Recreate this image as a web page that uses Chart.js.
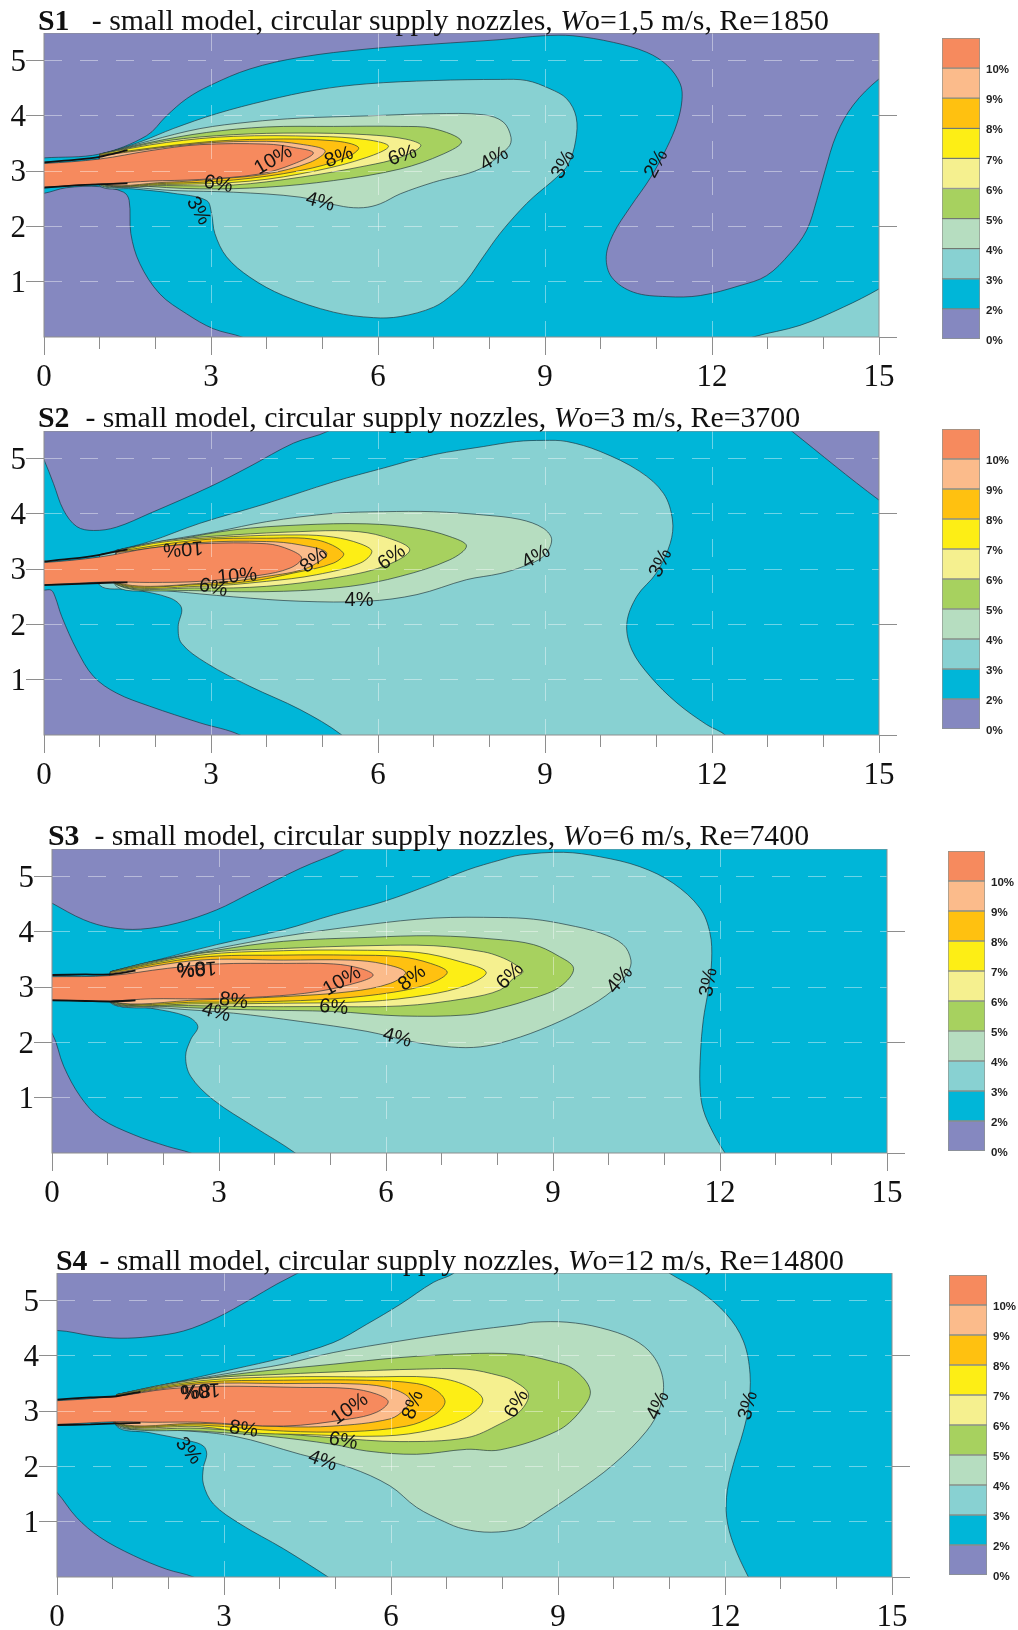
<!DOCTYPE html>
<html>
<head>
<meta charset="utf-8">
<script src="https://cdn.jsdelivr.net/npm/chart.js@4"></script>
<style>
  html, body { margin: 0; padding: 0; background: #fff; }
  body { position: relative; width: 1018px; height: 1630px; overflow: hidden; filter: blur(0.45px); }
  canvas { position: absolute; }
  .title { position: absolute; font: 29.8px/34px "Liberation Serif", serif; color: #111; white-space: pre; z-index: 5; }
</style>
</head>
<body>
<script>
// tick values
const xMajorTicks = [0, 3, 6, 9, 12, 15];
const xMinorTicks = [1, 2, 4, 5, 7, 8, 10, 11, 13, 14];
const yLeftTicks = [1, 2, 3, 4, 5];
const yRightTicks = [0, 2, 4];
const legendLabels = ['0%', '2%', '3%', '4%', '5%', '6%', '7%', '8%', '9%', '10%', ''];
const legendBands = [1, 1, 1, 1, 1, 1, 1, 1, 1, 1];

// titles
const titleNames = ['S1', 'S2', 'S3', 'S4'];
const titleGaps = ['   - ', '  - ', '  - ', '  - '];
const titleSpeeds = ['1,5', '3', '6', '12'];
const titleRe = ['1850', '3700', '7400', '14800'];

// S1 contours, [distance x, distance y]
const s1Low1 = [[-0.5,3.2],[0,3.24],[1,3.31],[1.84,3.64],[2.2,4],[2.56,4.31],[2.98,4.55],[3.7,4.85],[4.6,5.06],[5.8,5.21],[7,5.3],[8.19,5.38],[8.97,5.45],[9.5,5.45],[10.23,5.33],[10.83,5.15],[11.2,4.91],[11.43,4.58],[11.46,4.28],[11.37,3.86],[11.19,3.43],[10.9,2.89],[10.53,2.35],[10.23,1.87],[10.1,1.45],[10.2,1.08],[10.59,0.81],[11.19,0.73],[11.79,0.75],[12.5,0.93],[12.98,1.11],[13.4,1.51],[13.7,1.93],[13.88,2.47],[14.03,3.01],[14.24,3.67],[14.54,4.2],[15,4.67],[15.5,5],[15.5,6],[-0.5,6]];
const s1Low2 = [[-0.5,2.55],[0,2.6],[0.4,2.7],[1,2.72],[1.43,2.62],[1.53,2.47],[1.56,1.87],[1.72,1.33],[2.08,0.78],[2.56,0.42],[3.04,0.15],[3.58,-0.01],[3.9,-0.2],[-0.5,-0.5]];
const s1L3a = [[1,3.28],[1.78,3.55],[2.32,3.77],[3.1,4.04],[4,4.28],[4.9,4.47],[5.8,4.58],[7,4.64],[8.2,4.66],[8.67,4.64],[9.09,4.49],[9.39,4.31],[9.56,3.98],[9.55,3.55],[9.42,3.13],[9.21,2.89],[8.79,2.53],[8.55,2.29],[8.19,1.87],[7.89,1.45],[7.59,1.02],[7.35,0.78],[7,0.54],[6.4,0.37],[5.92,0.35],[5.2,0.45],[4.3,0.75],[3.7,1.08],[3.28,1.45],[3.07,1.87],[3.01,2.23],[2.92,2.47],[2.32,2.6],[1.6,2.68],[1,2.74]];
const s1L3b = [[12.2,-0.2],[12.74,0],[13.58,0.21],[14.36,0.54],[15,0.87],[15.5,1.2],[15.5,-0.5]];
const s1L4 = [[1,3.3],[1.9,3.55],[2.8,3.77],[3.7,3.89],[4.6,3.96],[5.8,4],[7,4.04],[7.9,4.02],[8.25,3.89],[8.39,3.61],[8.34,3.43],[7.83,3.04],[7,2.8],[6.4,2.59],[6.04,2.41],[5.74,2.34],[5.38,2.36],[4.6,2.53],[3.4,2.62],[2.32,2.65],[1.6,2.71],[1,2.76]];
const s1L5 = [[1,3.31],[1.9,3.52],[2.92,3.7],[4,3.8],[5.2,3.81],[6.4,3.81],[7,3.77],[7.5,3.54],[7.17,3.31],[6.4,3.04],[5.2,2.83],[4,2.71],[2.8,2.68],[1.6,2.74],[1,2.77]];
const s1L6 = [[1,3.31],[2.2,3.55],[3.4,3.66],[4.6,3.69],[5.8,3.66],[6.5,3.58],[6.77,3.46],[6.4,3.25],[5.8,3.1],[4.6,2.89],[3.4,2.75],[2.2,2.74],[1,2.78]];
const s1L7 = [[1,3.31],[2.2,3.52],[3.4,3.63],[4.9,3.63],[5.8,3.57],[6.19,3.45],[5.8,3.25],[4.9,3.01],[3.7,2.82],[2.2,2.76],[1,2.79]];
const s1L8 = [[1,3.3],[2.8,3.52],[4,3.58],[5.2,3.55],[5.65,3.43],[5.44,3.25],[4.6,3.01],[3.4,2.84],[2.2,2.78],[1,2.79]];
const s1L9 = [[1,3.28],[2.8,3.5],[4,3.54],[4.6,3.49],[5.05,3.37],[4.78,3.16],[4,2.95],[3.1,2.86],[2.2,2.8],[1,2.79]];
const s1L10 = [[-0.5,3.14],[0,3.14],[1,3.22],[1.9,3.37],[2.8,3.48],[4,3.49],[4.48,3.43],[4.84,3.33],[4.48,3.13],[3.88,2.95],[2.8,2.85],[1.9,2.82],[1.25,2.78],[1,2.77],[0,2.71],[-0.5,2.71]];
const s1JetTop = [[0,3.16],[0.5,3.2],[1,3.26],[1.5,3.38]];
const s1JetLow = [[0,2.7],[0.5,2.74],[1,2.76],[1.5,2.78]];
const s1Text = [[4.12,3.2,'10%',-30],[5.3,3.25,'8%',-20],[3.13,2.76,'6%',10],[6.44,3.28,'6%',-18],[8.09,3.22,'4%',-30],[4.96,2.44,'4%',15],[2.77,2.28,'3%',60],[9.33,3.12,'3%',-62],[11,3.13,'2%',-62]];

// S2 contours
const s2Low1 = [[-0.2,5.4],[0,4.98],[0.17,4.55],[0.35,4.07],[0.59,3.77],[0.89,3.7],[1.3,3.76],[1.9,4.01],[2.98,4.49],[3.7,4.86],[4.48,5.28],[5.11,5.5],[5.5,5.8],[-0.5,5.8]];
const s2Low2 = [[-0.5,2.6],[0,2.62],[0.13,2.62],[0.2,2.5],[0.32,2.14],[0.59,1.54],[0.89,1.06],[1.3,0.76],[1.9,0.52],[2.8,0.22],[3.52,0],[3.9,-0.3],[-0.5,-0.3]];
const s2Low3 = [[13,5.85],[13.43,5.5],[15,4.25],[15.5,3.95],[15.5,6]];
const s2L3 = [[1,3.26],[1.3,3.34],[1.9,3.5],[2.8,3.83],[4,4.19],[5.2,4.58],[6.1,4.83],[7,5.07],[7.9,5.22],[8.49,5.31],[8.97,5.33],[9.39,5.31],[9.99,5.13],[10.7,4.77],[11.13,4.37],[11.29,3.89],[11.25,3.47],[11,2.93],[10.65,2.51],[10.47,2.02],[10.56,1.54],[10.89,1.06],[11.37,0.58],[11.9,0.19],[12.26,-0.02],[12.4,-0.3],[5.6,-0.3],[5.35,0],[4.6,0.46],[3.7,0.88],[2.92,1.3],[2.47,1.66],[2.41,1.96],[2.47,2.3],[2.26,2.48],[1.6,2.63],[1,2.71]];
const s2L4 = [[1.3,3.34],[1.9,3.47],[3.1,3.68],[4,3.86],[5.2,4.01],[6.1,4.04],[7,4.04],[7.9,3.98],[8.55,3.9],[8.97,3.74],[9.12,3.53],[8.97,3.23],[8.61,3.05],[8.19,2.92],[7.59,2.81],[6.7,2.54],[5.8,2.42],[4.6,2.42],[3.4,2.5],[2.2,2.61],[1.3,2.69]];
const s2L5 = [[1.3,3.34],[2.2,3.5],[3.4,3.71],[4.6,3.8],[5.8,3.82],[6.7,3.74],[7.29,3.59],[7.59,3.42],[7.29,3.17],[6.4,2.87],[5.5,2.69],[4.3,2.6],[2.8,2.61],[1.3,2.72]];
const s2L6 = [[1.3,3.34],[2.2,3.52],[3.4,3.62],[4.6,3.68],[5.5,3.69],[6.1,3.59],[6.57,3.35],[6.1,3.05],[5.2,2.84],[4,2.69],[2.8,2.66],[1.3,2.73]];
const s2L7 = [[1.3,3.33],[2.2,3.5],[3.4,3.59],[4.6,3.62],[5.2,3.58],[5.68,3.46],[5.89,3.32],[5.68,3.11],[4.9,2.9],[4,2.78],[2.8,2.69],[1.3,2.74]];
const s2L8 = [[1.3,3.32],[2.8,3.53],[4,3.56],[4.9,3.53],[5.38,3.29],[5.2,3.11],[4.48,2.93],[3.7,2.78],[2.8,2.72],[1.3,2.75]];
const s2L9 = [[1.3,3.3],[2.8,3.48],[4,3.5],[4.6,3.44],[5.08,3.29],[4.72,3.02],[4,2.87],[3.1,2.76],[1.3,2.76]];
const s2L10 = [[-0.5,3.12],[0,3.12],[1,3.22],[1.9,3.38],[2.8,3.46],[4,3.46],[4.42,3.35],[4.63,3.2],[4.42,3.02],[3.88,2.89],[2.8,2.78],[1.9,2.76],[1.19,2.77],[0,2.72],[-0.5,2.72]];
const s2JetTop = [[0,3.14],[0.5,3.19],[1,3.26],[1.5,3.36]];
const s2JetLow = [[0,2.71],[0.5,2.73],[1,2.75],[1.5,2.76]];
const s2Text = [[2.5,3.38,'10%',176],[3.47,2.87,'10%',-5],[3.04,2.66,'6%',12],[4.85,3.16,'8%',-40],[6.25,3.21,'6%',-35],[5.66,2.43,'4%',0],[8.84,3.22,'4%',-30],[11.08,3.11,'3%',-65]];

// S3 contours
const s3Low1 = [[-0.5,4.8],[0,4.52],[0.57,4.22],[1.05,4.08],[1.59,4.05],[2.25,4.16],[2.96,4.4],[3.56,4.7],[4.46,5.15],[5.27,5.5],[5.7,5.8],[-0.5,5.8]];
const s3Low2 = [[-0.3,2.5],[0,2.17],[0.21,1.57],[0.51,1.02],[0.87,0.63],[1.47,0.33],[2.07,0.12],[2.49,0],[2.9,-0.2],[-0.5,-0.3]];
const s3L3 = [[1.05,3.28],[1.77,3.46],[2.96,3.77],[4.16,4.04],[5.06,4.31],[5.96,4.55],[6.86,4.88],[7.46,5.12],[8.05,5.3],[8.41,5.39],[9.19,5.44],[9.84,5.36],[10.56,5.18],[11.16,4.88],[11.64,4.43],[11.82,3.98],[11.85,3.49],[11.79,2.95],[11.7,2.41],[11.65,1.81],[11.64,1.2],[11.7,0.78],[11.88,0.36],[12.09,0],[12.3,-0.3],[4.7,-0.3],[4.37,0],[3.62,0.48],[2.9,0.96],[2.49,1.39],[2.4,1.75],[2.49,2.05],[2.62,2.29],[2.43,2.47],[1.77,2.62],[1.05,2.72]];
const s3L4 = [[1.05,3.28],[1.77,3.46],[2.96,3.7],[4.16,3.92],[5.66,4.13],[6.86,4.25],[8.05,4.26],[8.65,4.23],[9.25,4.13],[9.85,3.98],[10.26,3.77],[10.4,3.49],[10.35,3.28],[10.08,2.95],[9.54,2.59],[8.77,2.23],[8.05,1.99],[7.57,1.91],[7.04,1.93],[6.44,2.02],[5.66,2.2],[4.46,2.38],[3.26,2.53],[2.07,2.62],[1.05,2.72]];
const s3L5 = [[1.05,3.28],[1.77,3.46],[2.96,3.67],[4.16,3.83],[5.66,3.9],[6.86,3.93],[8.05,3.86],[8.65,3.77],[9.07,3.58],[9.37,3.34],[9.13,3.01],[8.65,2.8],[8.05,2.62],[7.46,2.5],[6.26,2.48],[5.06,2.56],[3.56,2.59],[2.07,2.65],[1.05,2.73]];
const s3L6 = [[1.05,3.28],[2.66,3.61],[4.16,3.7],[5.66,3.75],[6.86,3.75],[7.75,3.64],[8.05,3.55],[8.29,3.43],[8.46,3.28],[8.29,3.16],[8.05,2.95],[7.46,2.8],[6.26,2.66],[4.76,2.65],[3.56,2.65],[2.07,2.68],[1.05,2.74]];
const s3L7 = [[1.05,3.28],[2.66,3.58],[4.16,3.66],[5.36,3.67],[6.56,3.63],[7.34,3.46],[7.8,3.27],[7.46,3.04],[6.74,2.86],[5.66,2.74],[4.16,2.71],[2.66,2.7],[1.05,2.74]];
const s3L8 = [[1.05,3.27],[2.66,3.54],[4.16,3.58],[5.36,3.58],[6.26,3.55],[6.8,3.43],[7.1,3.27],[6.8,3.07],[6.14,2.91],[5.06,2.79],[3.86,2.74],[2.66,2.73],[1.05,2.75]];
const s3L9 = [[1.05,3.25],[2.66,3.49],[4.16,3.49],[5.36,3.49],[5.96,3.42],[6.35,3.27],[6.08,3.07],[5.36,2.92],[4.16,2.83],[2.66,2.77],[1.05,2.75]];
const s3L10 = [[-0.5,3.19],[0,3.19],[1.05,3.21],[2.07,3.34],[2.96,3.42],[4.16,3.43],[5.06,3.42],[5.54,3.34],[5.77,3.22],[5.54,3.1],[4.76,2.92],[3.86,2.83],[2.66,2.79],[1.77,2.79],[1.05,2.75],[0,2.77],[-0.5,2.77]];
const s3JetTop = [[0,3.22],[0.6,3.23],[1.05,3.23],[1.5,3.3]];
const s3JetLow = [[0,2.76],[0.6,2.75],[1.05,2.74],[1.5,2.76]];
const s3Text = [[2.6,3.34,'10%',176],[2.5,3.35,'8%',176],[5.21,3.11,'10%',-30],[6.47,3.16,'8%',-38],[3.26,2.75,'8%',8],[2.95,2.54,'4%',15],[5.06,2.63,'6%',5],[6.2,2.08,'4%',15],[8.23,3.2,'6%',-45],[10.2,3.13,'4%',-50],[11.8,3.09,'3%',-80]];

// S4 contours
const s4Low1 = [[-0.5,4.4],[0,4.46],[0.65,4.36],[1.13,4.32],[1.67,4.35],[2.27,4.45],[2.87,4.69],[3.47,5.02],[3.95,5.3],[4.31,5.49],[5,5.9],[-0.5,5.9]];
const s4Low2 = [[-0.3,1.8],[0,1.53],[0.35,1.08],[0.77,0.72],[1.37,0.39],[1.97,0.14],[2.45,0],[3,-0.3],[-0.5,-0.3]];
const s4L3 = [[1.07,3.3],[1.97,3.49],[3.17,3.76],[4.07,3.97],[4.96,4.24],[5.56,4.57],[6.16,4.93],[6.76,5.33],[7.12,5.49],[7.6,5.9],[10.4,5.9],[11.01,5.49],[11.55,5.17],[12.03,4.75],[12.33,4.27],[12.45,3.67],[12.42,3.07],[12.33,2.64],[12.15,2.04],[12.04,1.56],[12.03,1.08],[12.15,0.6],[12.42,0],[12.6,-0.3],[5.3,-0.3],[4.87,0],[4.07,0.51],[3.29,0.96],[2.81,1.32],[2.63,1.68],[2.63,1.98],[2.69,2.22],[2.63,2.37],[2.39,2.46],[1.67,2.61],[1.07,2.73]];
const s4L4 = [[1.07,3.3],[1.97,3.49],[3.17,3.7],[4.07,3.85],[4.96,4.06],[6.16,4.27],[7.36,4.45],[8.32,4.57],[8.56,4.61],[9.16,4.61],[9.76,4.51],[10.35,4.3],[10.71,4],[10.89,3.55],[10.83,3.07],[10.59,2.64],[10,2.04],[9.28,1.5],[8.56,1.02],[8.32,0.88],[7.8,0.81],[7.3,0.87],[6.96,1],[6.46,1.26],[5.98,1.65],[5.26,1.98],[4.37,2.22],[3.17,2.55],[1.97,2.67],[1.07,2.74]];
const s4L5 = [[1.07,3.3],[1.97,3.49],[3.47,3.7],[4.96,3.85],[6.16,3.97],[7.36,4.04],[8.26,4.03],[8.86,3.91],[9.28,3.76],[9.58,3.37],[9.4,3],[8.98,2.64],[7.96,2.3],[7.36,2.31],[6.46,2.22],[5.56,2.28],[4.96,2.4],[3.77,2.55],[2.57,2.64],[1.07,2.75]];
const s4L6 = [[1.07,3.3],[2.57,3.58],[4.07,3.67],[5.26,3.72],[6.46,3.76],[7.36,3.76],[7.96,3.64],[8.2,3.55],[8.47,3.31],[8.32,3],[7.96,2.77],[7.36,2.52],[6.16,2.45],[4.96,2.52],[3.77,2.61],[2.57,2.69],[1.07,2.76]];
const s4L7 = [[1.07,3.3],[2.57,3.55],[4.07,3.62],[5.56,3.62],[6.76,3.61],[7.36,3.46],[7.65,3.2],[7.36,2.89],[6.76,2.67],[5.86,2.55],[4.37,2.58],[3.47,2.61],[2.57,2.72],[1.07,2.77]];
const s4L8 = [[1.07,3.29],[2.57,3.52],[4.07,3.56],[5.56,3.56],[6.46,3.5],[6.82,3.37],[6.97,3.16],[6.76,2.92],[6.28,2.73],[5.26,2.63],[4.07,2.64],[2.57,2.75],[1.07,2.78]];
const s4L9 = [[1.07,3.28],[2.57,3.49],[4.07,3.5],[5.44,3.49],[6.04,3.4],[6.34,3.22],[6.25,3.04],[5.98,2.86],[4.96,2.73],[4.07,2.72],[2.57,2.78],[1.07,2.79]];
const s4L10 = [[-0.5,3.19],[0,3.19],[1.07,3.27],[1.97,3.4],[2.87,3.45],[4.37,3.43],[5.26,3.41],[5.74,3.31],[5.95,3.17],[5.74,2.98],[5.26,2.86],[4.07,2.73],[2.57,2.8],[1.67,2.8],[1.07,2.81],[0,2.76],[-0.5,2.76]];
const s4JetTop = [[0,3.21],[0.6,3.25],[1.07,3.27],[1.5,3.35]];
const s4JetLow = [[0,2.75],[0.6,2.76],[1.07,2.78],[1.5,2.79]];
const s4Text = [[2.57,3.38,'10%',176],[2.5,3.38,'8%',176],[5.26,3.04,'10%',-35],[6.4,3.11,'8%',-70],[3.35,2.67,'8%',8],[5.14,2.46,'6%',10],[4.77,2.1,'4%',20],[2.36,2.28,'3%',50],[8.26,3.13,'6%',-60],[10.8,3.1,'4%',-65],[12.42,3.1,'3%',-75]];

// colours per band, lowest first
const bandColors = ['#8588c0', '#00b6d8', '#88d1d2', '#b6ddc0', '#a7d15f', '#f5f08f', '#fdee15', '#ffc110', '#fbbb8b', '#f68a5e'];
const lineColor = 'rgba(25,45,55,0.8)';
const axisColor = '#8e8e8e';

// where things sit on the page
const plots = [
  { left: 44, right: 879, top: 33, bottom: 337, titleX: 38, titleBase: 30, nameGap: 0 },
  { left: 44, right: 879, top: 431, bottom: 735, titleX: 38, titleBase: 427, nameGap: 1 },
  { left: 52, right: 887, top: 849, bottom: 1153, titleX: 48, titleBase: 845, nameGap: 0 },
  { left: 57, right: 892, top: 1273, bottom: 1577, titleX: 56, titleBase: 1270, nameGap: -3 }
];
const legends = [
  { left: 942, right: 980, top: 38, bottom: 339 },
  { left: 942, right: 980, top: 429, bottom: 729 },
  { left: 948, right: 985, top: 851, bottom: 1151 },
  { left: 949, right: 987, top: 1275, bottom: 1575 }
];

const fullBox = [[-1, -1], [16, -1], [16, 7], [-1, 7]];

// polygons in paint order: [points, band index]
const panelShapes = [
  [[fullBox,1],[s1Low1,0],[s1Low2,0],[s1L3a,2],[s1L3b,2],[s1L4,3],[s1L5,4],[s1L6,5],[s1L7,6],[s1L8,7],[s1L9,8],[s1L10,9]],
  [[fullBox,1],[s2Low1,0],[s2Low2,0],[s2Low3,0],[s2L3,2],[s2L4,3],[s2L5,4],[s2L6,5],[s2L7,6],[s2L8,7],[s2L9,8],[s2L10,9]],
  [[fullBox,1],[s3Low1,0],[s3Low2,0],[s3L3,2],[s3L4,3],[s3L5,4],[s3L6,5],[s3L7,6],[s3L8,7],[s3L9,8],[s3L10,9]],
  [[fullBox,1],[s4Low1,0],[s4Low2,0],[s4L3,2],[s4L4,3],[s4L5,4],[s4L6,5],[s4L7,6],[s4L8,7],[s4L9,8],[s4L10,9]]
];
const panelJets = [[s1JetTop, s1JetLow], [s2JetTop, s2JetLow], [s3JetTop, s3JetLow], [s4JetTop, s4JetLow]];
const panelTexts = [s1Text, s2Text, s3Text, s4Text];

function toPoints(list) {
  return list.map(p => ({ x: p[0], y: p[1] }));
}

function addCanvas(left, top, width, height, z) {
  const c = document.createElement('canvas');
  c.width = width;
  c.height = height;
  c.style.cssText = `left:${left}px;top:${top}px;width:${width}px;height:${height}px;z-index:${z}`;
  document.body.appendChild(c);
  return c;
}

// force an axis box to a fixed size so the plot lands where it should
function fixSize(size) {
  return function (scale) {
    if (scale.isHorizontal()) scale.height = size; else scale.width = size;
    scale.paddingLeft = scale.paddingRight = scale.paddingTop = scale.paddingBottom = 0;
  };
}

function setTicks(values) {
  return function (scale) {
    scale.ticks = values.map(v => ({ value: v }));
  };
}

const contourLabels = {
  id: 'contourLabels',
  afterDraw(chart, args, opts) {
    const { ctx, chartArea: a, scales } = chart;
    ctx.save();
    ctx.strokeStyle = axisColor;
    ctx.lineWidth = 1;
    ctx.strokeRect(a.left, a.top, a.right - a.left, a.bottom - a.top);
    ctx.font = '20px "Liberation Sans", sans-serif';
    ctx.fillStyle = '#141414';
    ctx.textAlign = 'center';
    ctx.textBaseline = 'middle';
    opts.items.forEach(t => {
      ctx.save();
      ctx.translate(scales.x.getPixelForValue(t[0]), scales.y.getPixelForValue(t[1]));
      ctx.rotate(t[3] * Math.PI / 180);
      ctx.fillText(t[2], 0, 0);
      ctx.restore();
    });
    ctx.restore();
  }
};

plots.forEach((box, i) => {
  // title
  const title = document.createElement('div');
  title.className = 'title';
  title.style.left = box.titleX + 'px';
  title.style.top = (box.titleBase - 27) + 'px';
  const bold = document.createElement('b');
  bold.textContent = titleNames[i];
  bold.style.marginRight = box.nameGap + 'px';
  const ital = document.createElement('i');
  ital.textContent = 'W';
  title.append(bold, titleGaps[i] + 'small model, circular supply nozzles, ', ital, `o=${titleSpeeds[i]} m/s, Re=${titleRe[i]}`);
  document.body.appendChild(title);

  const datasets = panelShapes[i].map(s => ({
    data: toPoints(s[0].concat([s[0][0]])),
    backgroundColor: bandColors[s[1]],
    borderColor: s[0] === fullBox ? 'transparent' : lineColor,
    borderWidth: 0.8,
    fill: 'shape',
    tension: s[0] === fullBox ? 0 : 0.35,
    pointRadius: 0,
    clip: 0
  }));
  panelJets[i].forEach(j => datasets.push({
    data: toPoints(j),
    borderColor: '#111',
    borderWidth: 1.8,
    fill: false,
    tension: 0.2,
    pointRadius: 0,
    clip: 0
  }));
  // chart.js paints the first dataset last, so flip the paint order
  datasets.reverse();

  const canvas = addCanvas(0, box.top, 1018, box.bottom - box.top + 58, 1);
  new Chart(canvas.getContext('2d'), {
    type: 'line',
    data: { datasets },
    options: {
      responsive: false,
      animation: false,
      events: [],
      layout: { padding: 0 },
      elements: { line: { capBezierPoints: false } },
      plugins: {
        legend: { display: false },
        tooltip: { enabled: false },
        contourLabels: { items: panelTexts[i] }
      },
      scales: {
        x: {
          type: 'linear', position: 'bottom', min: 0, max: 15, weight: 0,
          afterBuildTicks: setTicks(xMajorTicks),
          afterFit: fixSize(58),
          border: { display: false, dash: [18, 18] },
          grid: {
            z: 1, lineWidth: 1, tickLength: 18, tickColor: axisColor,
            color: c => (c.tick && c.tick.value > 0 && c.tick.value < 15) ? 'rgba(255,255,255,0.42)' : 'transparent'
          },
          ticks: {
            autoSkip: false, maxRotation: 0, padding: 4, color: '#111',
            font: { family: '"Liberation Serif", serif', size: 31 },
            callback: v => String(v)
          }
        },
        x2: {
          type: 'linear', position: 'bottom', min: 0, max: 15, weight: -1,
          afterBuildTicks: setTicks(xMinorTicks),
          afterFit: fixSize(0),
          border: { display: false },
          grid: { z: 1, drawOnChartArea: false, tickLength: 12, tickColor: axisColor },
          ticks: { display: false, autoSkip: false }
        },
        y: {
          type: 'linear', position: 'left', min: 0, max: 5.5,
          afterBuildTicks: setTicks(yLeftTicks),
          afterFit: fixSize(box.left),
          border: { display: false, dash: [18, 18] },
          grid: { z: 1, lineWidth: 1, tickLength: 18, tickColor: axisColor, color: 'rgba(255,255,255,0.42)' },
          ticks: {
            autoSkip: false, padding: 0, labelOffset: 2, color: '#111',
            font: { family: '"Liberation Serif", serif', size: 31 },
            callback: v => String(v)
          }
        },
        y2: {
          type: 'linear', position: 'right', min: 0, max: 5.5,
          afterBuildTicks: setTicks(yRightTicks),
          afterFit: fixSize(1018 - box.right),
          border: { display: false },
          grid: { z: 1, drawOnChartArea: false, tickLength: 18, tickColor: axisColor },
          ticks: { display: true, color: 'transparent', font: { size: 1 }, autoSkip: false }
        }
      }
    },
    plugins: [contourLabels]
  });

  // colour key, a stacked bar on its own little chart
  const key = legends[i];
  const keyCanvas = addCanvas(key.left, key.top - 10, 1018 - key.left, key.bottom - key.top + 20, 2);
  new Chart(keyCanvas.getContext('2d'), {
    type: 'bar',
    data: {
      labels: [''],
      datasets: legendBands.map((v, k) => ({
        data: [v],
        backgroundColor: bandColors[k],
        borderColor: 'rgba(50,60,50,0.55)',
        borderWidth: 1,
        borderSkipped: false,
        barPercentage: 1,
        categoryPercentage: 1
      }))
    },
    options: {
      responsive: false,
      animation: false,
      events: [],
      layout: { padding: { top: 10, bottom: 10 } },
      plugins: { legend: { display: false }, tooltip: { enabled: false } },
      scales: {
        x: { stacked: true, display: false },
        y: {
          stacked: true, position: 'right', min: 0, max: 10,
          afterBuildTicks: setTicks(legendLabels.map((l, k) => k)),
          afterFit: fixSize(1018 - key.right),
          border: { display: false },
          grid: { display: false, drawTicks: false },
          ticks: {
            autoSkip: false, padding: 6, labelOffset: 2, color: '#222',
            font: { family: '"Liberation Sans", sans-serif', size: 11.5, weight: 'bold' },
            callback: v => legendLabels[v]
          }
        }
      }
    }
  });
});
</script>
</body>
</html>
